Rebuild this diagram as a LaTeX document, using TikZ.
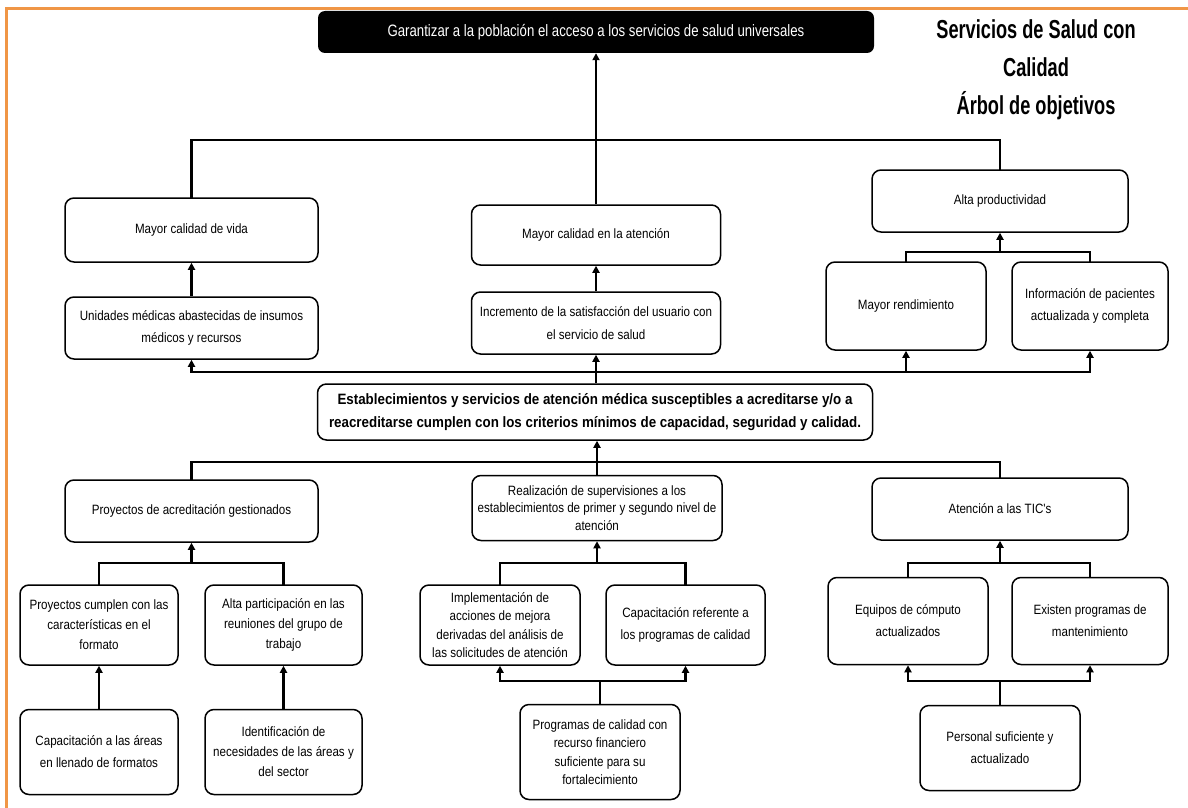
\documentclass[tikz,border=0pt]{standalone}
\usepackage{fontspec}
\setmainfont{Liberation Sans}
\newfontfamily\boxfont{Liberation Sans}[FakeStretch=0.86]
\newfontfamily\topfont{Liberation Sans}[FakeStretch=0.8]
\newfontfamily\cenfont{Liberation Sans Bold}[FakeStretch=0.89]
\newfontfamily\ttlfont{Liberation Sans Bold}[FakeStretch=0.7]
\usetikzlibrary{arrows.meta}
\definecolor{frameorange}{RGB}{240,150,70}
\tikzset{
  box/.style={draw, line width=1.5pt, rounded corners=9pt, align=center, inner sep=2pt,
    font=\boxfont\fontsize{13.5}{20}\selectfont},
  topbox/.style={fill=black, text=white, rounded corners=7pt, inner sep=2pt,
    font=\topfont\fontsize{16.5}{18}\selectfont},
  cenbox/.style={box, font=\cenfont\fontsize{15}{23}\selectfont},
  ttl/.style={align=center, inner sep=0pt, font=\ttlfont\fontsize{26}{38}\selectfont},
  conn/.style={line width=2.8pt, line join=miter, line cap=rect},
  arr/.style={line width=2.4pt, -{Triangle[width=7pt,length=7pt]}},
}
\begin{document}
\begin{tikzpicture}[x=1pt,y=-1pt]
\useasboundingbox (0,0) rectangle (1188,808);
\fill[white] (0,0) rectangle (1188,808);
\draw[frameorange, line width=3pt] (6,808) -- (6,9) -- (1188,9);

% title
\node[ttl] (title) at (1036,70) {Servicios de Salud con\\Calidad\\Árbol de objetivos};

% top
\node[topbox, minimum width=556, minimum height=42] (top) at (596,32)
  {Garantizar a la población el acceso a los servicios de salud universales};

% row 1
\node[box, minimum width=253, minimum height=64] (mcv) at (191.5,230) {Mayor calidad de vida};
\node[box, minimum width=249, minimum height=60] (mca) at (596,235) {Mayor calidad en la atención};
\node[box, minimum width=256, minimum height=62] (ap) at (1000,201) {Alta productividad};

% row 2
\node[box, minimum width=253, minimum height=62, font=\boxfont\fontsize{13.5}{22}\selectfont] (um) at (191.5,328)
  {Unidades médicas abastecidas de insumos\\médicos y recursos};
\node[box, minimum width=249, minimum height=62, font=\boxfont\fontsize{13.5}{23}\selectfont] (inc) at (596,323)
  {Incremento de la satisfacción del usuario con\\el servicio de salud};
\node[box, minimum width=160, minimum height=88] (mr) at (906,306) {Mayor rendimiento};
\node[box, minimum width=156, minimum height=88, font=\boxfont\fontsize{13.5}{22}\selectfont] (ip) at (1090,306)
  {Información de pacientes\\actualizada y completa};

% central
\node[cenbox, minimum width=555, minimum height=56] (cen) at (595,412)
  {Establecimientos y servicios de atención médica susceptibles a acreditarse y/o a\\reacreditarse cumplen con los criterios mínimos de capacidad, seguridad y calidad.};

% row 3
\node[box, minimum width=253, minimum height=62] (pag) at (191.5,511) {Proyectos de acreditación gestionados};
\node[box, minimum width=250, minimum height=65, font=\boxfont\fontsize{13.5}{17.5}\selectfont] (real) at (597,508)
  {Realización de supervisiones a los\\establecimientos de primer y segundo nivel de\\atención};
\node[box, minimum width=256, minimum height=62] (tic) at (1000,509) {Atención a las TIC's};

% row 4
\node[box, minimum width=158, minimum height=80] (pc) at (99,625)
  {Proyectos cumplen con las\\características en el\\formato};
\node[box, minimum width=157, minimum height=80] (apa) at (283.5,625)
  {Alta participación en las\\reuniones del grupo de\\trabajo};
\node[box, minimum width=160, minimum height=80, font=\boxfont\fontsize{13.5}{18.5}\selectfont] (impl) at (500,625)
  {Implementación de\\acciones de mejora\\derivadas del análisis de\\las solicitudes de atención};
\node[box, minimum width=159, minimum height=80, font=\boxfont\fontsize{13.5}{22}\selectfont] (capr) at (685.5,625)
  {Capacitación referente a\\los programas de calidad};
\node[box, minimum width=160, minimum height=87, font=\boxfont\fontsize{13.5}{22}\selectfont] (eq) at (908,621)
  {Equipos de cómputo\\actualizados};
\node[box, minimum width=156, minimum height=87, font=\boxfont\fontsize{13.5}{22}\selectfont] (ex) at (1090,621)
  {Existen programas de\\mantenimiento};

% row 5
\node[box, minimum width=158, minimum height=85, font=\boxfont\fontsize{13.5}{22}\selectfont] (cap) at (99,752)
  {Capacitación a las áreas\\en llenado de formatos};
\node[box, minimum width=157, minimum height=85] (ident) at (283.5,752)
  {Identificación de\\necesidades de las áreas y\\del sector};
\node[box, minimum width=160, minimum height=95, font=\boxfont\fontsize{13.5}{18.5}\selectfont] (prog) at (600,752)
  {Programas de calidad con\\recurso financiero\\suficiente para su\\fortalecimiento};
\node[box, minimum width=160, minimum height=85, font=\boxfont\fontsize{13.5}{22}\selectfont] (pers) at (1000,748)
  {Personal suficiente y\\actualizado};

% junction levels
\coordinate (yA) at (0,140);
\coordinate (yB) at (0,252);
\coordinate (yC) at (0,372);
\coordinate (yD) at (0,462);
\coordinate (yE) at (0,563);
\coordinate (yF) at (0,681);

% level A
\draw[conn] (mcv.north) -- (mcv.north |- yA) -- (ap.north |- yA) -- (ap.north);
\draw[arr] (mca.north) -- (mca.north |- top.south);

% row2 -> row1
\draw[arr] (um.north) -- (mcv.south);
\draw[arr] (inc.north) -- (mca.north |- inc.north) -- (mca.south);
\draw[conn] (mr.north) -- (mr.north |- yB) -- (ip.north |- yB) -- (ip.north);
\draw[arr] (ap.south |- yB) -- (ap.south);

% level C
\draw[conn] (um.south |- yC) -- (ip.south |- yC);
\draw[arr] (um.south |- yC) -- (um.south);
\draw[arr] (cen.north -| inc.south) -- (inc.south);
\draw[arr] (mr.south |- yC) -- (mr.south);
\draw[arr] (ip.south |- yC) -- (ip.south);

% level D
\draw[conn] (pag.north) -- (pag.north |- yD) -- (tic.north |- yD) -- (tic.north);
\draw[arr] (real.north) -- (real.north |- cen.south);

% level E brackets
\draw[conn] (pc.north) -- (pc.north |- yE) -- (apa.north |- yE) -- (apa.north);
\draw[arr] (pag.south |- yE) -- (pag.south);
\draw[conn] (impl.north) -- (impl.north |- yE) -- (capr.north |- yE) -- (capr.north);
\draw[arr] (real.south |- yE) -- (real.south);
\draw[conn] (eq.north) -- (eq.north |- yE) -- (ex.north |- yE) -- (ex.north);
\draw[arr] (tic.south |- yE) -- (tic.south);

% row5 -> row4
\draw[arr] (cap.north) -- (pc.south);
\draw[arr] (ident.north) -- (apa.south);
\draw[conn] (prog.north) -- (prog.north |- yF);
\draw[conn] (impl.south |- yF) -- (capr.south |- yF);
\draw[arr] (impl.south |- yF) -- (impl.south);
\draw[arr] (capr.south |- yF) -- (capr.south);
\draw[conn] (pers.north) -- (pers.north |- yF);
\draw[conn] (eq.south |- yF) -- (ex.south |- yF);
\draw[arr] (eq.south |- yF) -- (eq.south);
\draw[arr] (ex.south |- yF) -- (ex.south);
\end{tikzpicture}
\end{document}
